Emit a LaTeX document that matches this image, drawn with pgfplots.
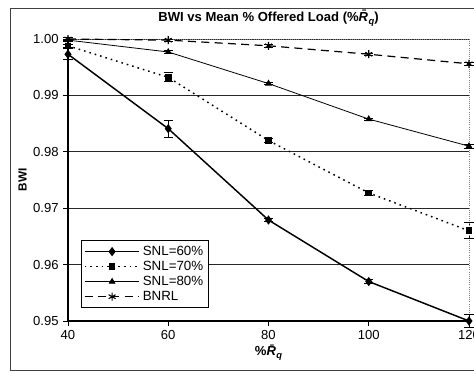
\documentclass[border=0pt]{standalone}
\usepackage{pgfplots}
\pgfplotsset{compat=1.18}
\usepackage{fontspec}
\setmainfont{Liberation Sans}
\newcommand{\Rq}{{\bfseries\itshape\=R}\kern0.3pt\raisebox{-0.45ex}{\fontsize{7}{8}\selectfont\bfseries\itshape q}}
\begin{document}
\begin{tikzpicture}
\useasboundingbox (-51pt,-38.25pt) rectangle (304.5pt,240.75pt);
\clip (-51pt,-38.25pt) rectangle (304.5pt,240.75pt);
\draw[black!75, line width=0.6pt] (-43.5pt,-37.3pt) rectangle (320pt,234.5pt);
\begin{axis}[
  at={(0,0)}, anchor=south west,
  scale only axis, width=300.75pt, height=211.5pt,
  xmin=40, xmax=120, ymin=0.95, ymax=1.00,
  xtick={40,60,80,100,120},
  ytick={0.95,0.96,0.97,0.98,0.99,1.00},
  axis x line*=bottom, axis y line*=left,
  axis line style={-, black, line width=0.8pt},
  tick align=outside, major tick length=3.5pt,
  tick style={black, line width=0.6pt},
  ymajorgrids, grid style={black!85, line width=0.6pt},
  clip=false,
  tick label style={font=\fontsize{9.8}{11}\selectfont},
  yticklabel style={/pgf/number format/.cd, fixed, fixed zerofill, precision=2},
  /pgf/number format/assume math mode=true,
  title={\bfseries BWI vs Mean \% Offered Load (\%\Rq)},
  title style={font=\fontsize{9.8}{11}\selectfont, yshift=0pt},
  xlabel={\bfseries\%\Rq},
  xlabel style={font=\fontsize{9.8}{11}\selectfont, yshift=3pt},
  ylabel={\bfseries BWI},
  ylabel style={font=\fontsize{8.8}{10}\selectfont, yshift=-2pt},
  legend style={at={(axis description cs:0.0324,0.0461)}, anchor=south west,
    draw=black, line width=0.6pt, font=\fontsize{10}{11}\selectfont,
    row sep=-1.2pt, inner sep=2pt},
  legend cell align=left,
  legend image code/.code={\draw[mark repeat=2,mark phase=2,#1] plot coordinates {(0cm,0cm) (0.72cm,0cm) (1.44cm,0cm)};},
  error bars/y dir=both, error bars/y explicit,
  error bars/error bar style={black, line width=0.6pt},
  error bars/error mark options={rotate=90, mark size=3.5pt, black, line width=0.6pt},
]
\draw[gray, densely dotted, line width=0.6pt] (rel axis cs:0,1) -- (rel axis cs:1,1) -- (rel axis cs:1,0);
\addplot[black, line width=1.1pt, mark=diamond*, mark size=2.6pt, mark options={solid}]
  coordinates {(40,0.9973) +- (0,0.0010) (60,0.9841) +- (0,0.0015) (80,0.9679) +- (0,0.0003) (100,0.9570) +- (0,0.0004) (120,0.9500) +- (0,0.0012)};
\addlegendentry{SNL=60\%}
\addplot[black, line width=1.1pt, dash pattern=on 1.2pt off 3pt, mark=square*, mark size=1.9pt, mark options={solid}]
  coordinates {(40,0.9988) +- (0,0.0003) (60,0.9932) +- (0,0.0008) (80,0.9820) +- (0,0.0003) (100,0.9727) +- (0,0.0004) (120,0.9660) +- (0,0.0014)};
\addlegendentry{SNL=70\%}
\addplot[black, line width=0.6pt, mark=triangle*, mark size=2.4pt, mark options={solid}]
  coordinates {(40,0.9998) +- (0,0.0002) (60,0.9977) +- (0,0.0002) (80,0.9921) +- (0,0.0002) (100,0.9858) +- (0,0.0002) (120,0.9810) +- (0,0.0004)};
\addlegendentry{SNL=80\%}
\addplot[black, line width=0.9pt, dash pattern=on 6pt off 4pt, mark=asterisk, mark size=3pt, mark options={solid, line width=0.8pt}]
  coordinates {(40,1.0000) +- (0,0.0002) (60,0.9998) +- (0,0.0002) (80,0.9988) +- (0,0.0002) (100,0.9973) +- (0,0.0002) (120,0.9956) +- (0,0.0002)};
\addlegendentry{BNRL}
\end{axis}
\end{tikzpicture}
\end{document}
